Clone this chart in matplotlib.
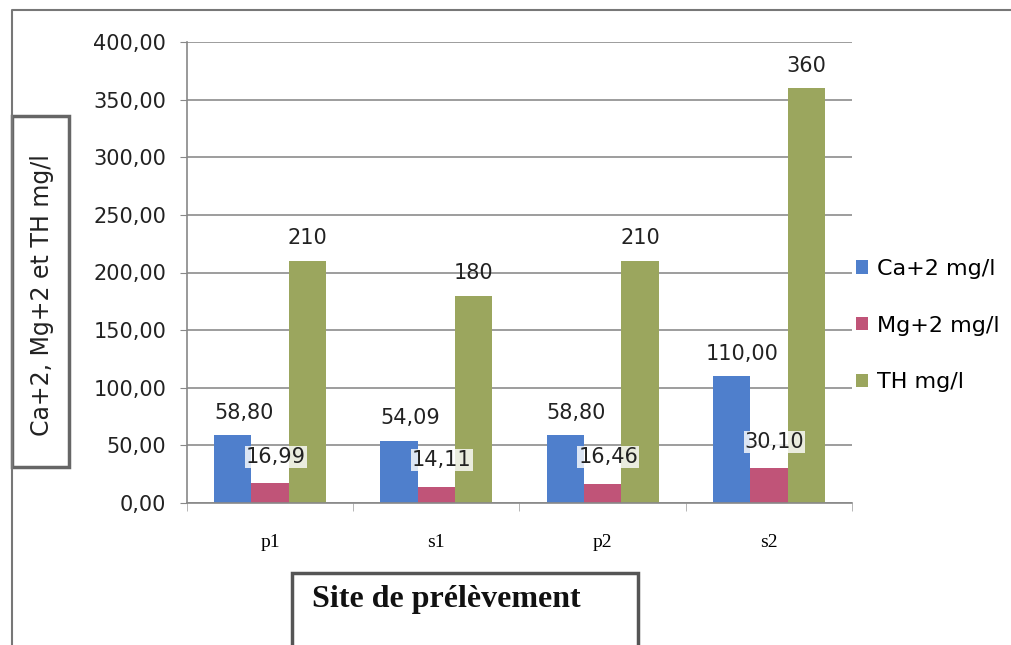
import numpy as np
import matplotlib.pyplot as plt
from matplotlib.patches import Rectangle
from matplotlib.lines import Line2D
from matplotlib.ticker import FuncFormatter, FixedLocator

plt.rcParams['font.family'] = ['DejaVu Sans']
plt.rcParams['font.size'] = 15

sites = ['p1', 's1', 'p2', 's2']
ca = [58.80, 54.09, 58.80, 110.00]
mg = [16.99, 14.11, 16.46, 30.10]
th = [210, 180, 210, 360]
ca_lbl = ['58,80', '54,09', '58,80', '110,00']
mg_lbl = ['16,99', '14,11', '16,46', '30,10']
th_lbl = ['210', '180', '210', '360']
series_names = ['Ca+2 mg/l', 'Mg+2 mg/l', 'TH mg/l']
colors = ['#4f7fcc', '#c05478', '#9ba65e']

W, H = 1012, 645
fig = plt.figure(figsize=(W / 100, H / 100), dpi=100)

def fx(px):
    return px / W

def fy(py):
    return 1 - py / H

ax = fig.add_axes([fx(187), fy(503), fx(852) - fx(187), fy(42) - fy(503)])

x = np.arange(len(sites))
w = 0.225
b1 = ax.bar(x - w, ca, w, color=colors[0], label=series_names[0])
b2 = ax.bar(x, mg, w, color=colors[1], label=series_names[1])
b3 = ax.bar(x + w, th, w, color=colors[2], label=series_names[2])

ax.set_xlim(-0.5, len(sites) - 0.5)
ax.set_ylim(0, 400)
ax.set_yticks(np.arange(0, 401, 50))
ax.yaxis.set_major_formatter(FuncFormatter(lambda v, p: f'{v:.2f}'.replace('.', ',')))
ax.grid(axis='y', color='#8c8c8c', linewidth=1.2)
ax.set_axisbelow(True)

ax.set_xticks(x)
ax.set_xticklabels(sites, fontsize=14, family=['Liberation Serif'])
ax.tick_params(axis='x', length=0, pad=22)
ax.xaxis.set_minor_locator(FixedLocator(np.arange(-0.5, len(sites), 1)))
ax.tick_params(axis='x', which='minor', length=6, color='#aaaaaa')
ax.tick_params(axis='y', length=5, color='#888888', labelsize=15, labelcolor='#222222', pad=10)

for s in ['top', 'right']:
    ax.spines[s].set_visible(False)
for s in ['left', 'bottom']:
    ax.spines[s].set_color('#888888')
    ax.spines[s].set_linewidth(1.2)

for i in range(len(sites)):
    ax.annotate(ca_lbl[i], (x[i] - w, ca[i]), xytext=(8, 9), textcoords='offset points',
                ha='center', va='bottom', fontsize=15, color='#222222')
    ax.annotate(mg_lbl[i], (x[i], mg[i]), xytext=(4, 12), textcoords='offset points',
                ha='center', va='bottom', fontsize=15, color='#222222',
                bbox=dict(boxstyle='square,pad=0.05', fc='white', ec='none', alpha=0.8))
    ax.annotate(th_lbl[i], (x[i] + w, th[i]), xytext=(0, 9), textcoords='offset points',
                ha='center', va='bottom', fontsize=15, color='#222222')

fig.legend(handles=[b1, b2, b3], labels=series_names, loc='upper left',
           bbox_to_anchor=(fx(856), fy(259)), frameon=False, fontsize=16,
           handlelength=0.55, handleheight=0.55, handletextpad=0.4, labelspacing=1.65,
           borderaxespad=0, borderpad=0)

# outer chart frame
fig.add_artist(Line2D([fx(12), fx(12), fx(1012)], [fy(645), fy(10), fy(10)],
                      color='#777777', linewidth=1.5))

# y axis title box
fig.add_artist(Rectangle((fx(12), fy(467)), fx(69) - fx(12), fy(116) - fy(467),
                         fill=False, ec='#666666', lw=2.5))
fig.text(fx(42), fy(295), 'Ca+2, Mg+2 et TH mg/l', rotation=90, ha='center', va='center',
         fontsize=17, color='#222222')

# x axis title box
fig.add_artist(Rectangle((fx(292), fy(660)), fx(638) - fx(292), fy(573) - fy(660),
                         fill=False, ec='#555555', lw=2.5, clip_on=False))
fig.text(fx(312), fy(599), 'Site de prélèvement', ha='left', va='center',
         fontsize=23, fontweight='bold', family=['Liberation Serif'], color='#111111')

fig.savefig('out.png', dpi=100)
